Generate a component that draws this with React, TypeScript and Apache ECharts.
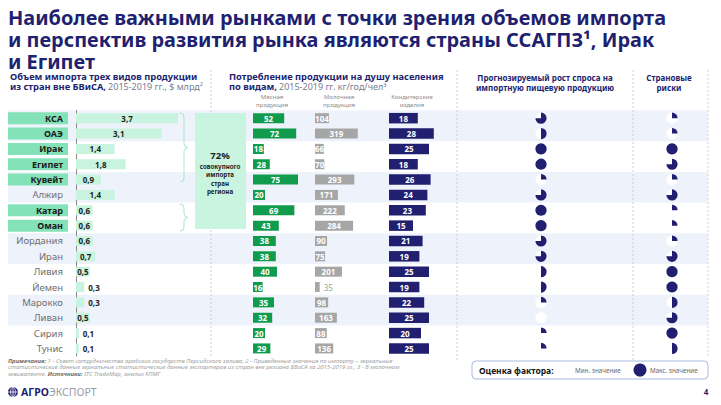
import React, { useEffect, useRef } from "react";
import * as echarts from "echarts";

// Countries of the region, top to bottom
const countries = ["КСА", "ОАЭ", "Ирак", "Египет", "Кувейт", "Алжир", "Катар", "Оман", "Иордания", "Иран", "Ливия", "Йемен", "Марокко", "Ливан", "Сирия", "Тунис"];
// Key markets (ССАГПЗ, Ирак, Египет) get a highlighted label
const keyMarkets = [true, true, true, true, true, false, true, true, false, false, false, false, false, false, false, false];
// Import of the three product groups from outside БВиСА, $ bn
const importBn = [3.7, 3.1, 1.4, 1.8, 0.9, 1.4, 0.6, 0.6, 0.6, 0.7, 0.5, 0.3, 0.3, 0.5, 0.1, 0.1];
// Per-capita consumption, kg/year/person
const meatKg = [52, 72, 18, 28, 75, 20, 69, 43, 38, 38, 40, 16, 35, 32, 20, 29];
const dairyKg = [104, 319, 66, 70, 293, 171, 222, 284, 90, 75, 201, 35, 98, 163, 88, 136];
const sweetsKg = [18, 28, 25, 18, 26, 24, 23, 15, 21, 19, 25, 19, 22, 25, 20, 25];
// Harvey-ball scores (share of the circle filled)
const demandGrowth = [0.75, 0.5, 1, 1, 0.25, 0.75, 1, 1, 0.75, 0.75, 0.5, 0.5, 0.25, 0, 0.25, 0.25];
const countryRisk = [0.25, 0.25, 1, 0.75, 0.25, 0.75, 0.25, 0.25, 0.25, 0.75, 1, 1, 0.5, 0.75, 1, 0.5];

const FONT = '"Noto Sans", "DejaVu Sans", sans-serif';
const NAVY = "#211f6f";
const MINT = "#c8f3de";
const MINT_STRONG = "#84e2b9";

const ROW_TOP = 110.5;
const ROW_H = 15.35;

const commaNum = (v: number) => String(v).replace(".", ",");

function bracePath(h: number) {
  const m = h / 2;
  return `M0 0 Q4 0 4 4 L4 ${m - 4} Q4 ${m} 8 ${m} Q4 ${m} 4 ${m + 4} L4 ${h - 4} Q4 ${h} 0 ${h}`;
}

function buildOption(): any {
  const n = countries.length;
  const grid = (left: number, width: number) => ({
    left,
    width,
    top: ROW_TOP,
    height: ROW_H * n,
    containLabel: false,
    outerBoundsMode: "none",
  });
  const hiddenCat = (gridIndex: number) => ({
    type: "category",
    gridIndex,
    data: countries,
    inverse: true,
    show: false,
  });
  const hiddenVal = (gridIndex: number, max: number) => ({
    type: "value",
    gridIndex,
    min: 0,
    max,
    show: false,
  });

  const grids = [
    grid(8, 700), // 0 row stripes
    grid(8, 60), // 1 country labels
    grid(76, 120), // 2 import
    grid(253, 60), // 3 meat
    grid(315, 70), // 4 dairy
    grid(389, 60), // 5 sweets
    grid(531, 20), // 6 demand growth
    grid(662, 20), // 7 country risk
  ];

  const yAxes: any[] = grids.map((_, i) => hiddenCat(i));
  yAxes[0] = {
    type: "category",
    gridIndex: 0,
    data: countries,
    inverse: true,
    axisLine: { show: false },
    axisTick: { show: false },
    axisLabel: { show: false },
    splitArea: { show: true, areaStyle: { color: ["#eef2fb", "rgba(255,255,255,0)"] } },
  };
  yAxes[2] = {
    type: "category",
    gridIndex: 2,
    data: countries,
    inverse: true,
    axisLine: { show: true, lineStyle: { color: "#8a8a8a", width: 1 } },
    axisTick: { show: false },
    axisLabel: { show: false },
  };

  const xAxes = [
    hiddenVal(0, 1),
    hiddenVal(1, 1),
    hiddenVal(2, 4.35),
    hiddenVal(3, 100),
    hiddenVal(4, 522),
    hiddenVal(5, 37.5),
    hiddenVal(6, 1),
    hiddenVal(7, 1),
  ];

  const valueLabel = {
    show: true,
    position: "inside",
    fontFamily: FONT,
    fontSize: 8,
    fontWeight: "bold",
    color: "#ffffff",
  };

  const harvey = (idx: number, scores: number[]) => ({
    type: "custom",
    xAxisIndex: idx,
    yAxisIndex: idx,
    data: scores.map((f, i) => [0.5, i, f]),
    encode: { x: 0, y: 1 },
    renderItem: (_params: any, api: any) => {
      const pt = api.coord([api.value(0), api.value(1)]);
      const f = api.value(2);
      const r = 5.6;
      const children: any[] = [
        { type: "circle", shape: { cx: pt[0], cy: pt[1], r }, style: { fill: "#ffffff" } },
      ];
      if (f >= 1) {
        children.push({ type: "circle", shape: { cx: pt[0], cy: pt[1], r }, style: { fill: NAVY } });
      } else if (f > 0) {
        children.push({
          type: "sector",
          shape: {
            cx: pt[0],
            cy: pt[1],
            r0: 0,
            r,
            startAngle: -Math.PI / 2,
            endAngle: -Math.PI / 2 + 2 * Math.PI * f,
            clockwise: true,
          },
          style: { fill: NAVY },
        });
      }
      return { type: "group", children };
    },
  });

  const series: any[] = [
    {
      type: "bar",
      xAxisIndex: 1,
      yAxisIndex: 1,
      barWidth: 12,
      silent: true,
      data: countries.map((c, i) => ({
        value: 1,
        itemStyle: { color: keyMarkets[i] ? MINT_STRONG : "rgba(0,0,0,0)" },
        label: keyMarkets[i]
          ? { color: "#1b1b1b", fontWeight: "bold", fontSize: 9 }
          : { color: "#6e6e6e", fontWeight: "normal", fontSize: 9.5 },
      })),
      label: {
        show: true,
        position: "insideRight",
        distance: 5,
        fontFamily: FONT,
        formatter: (p: any) => countries[p.dataIndex],
      },
    },
    {
      type: "bar",
      xAxisIndex: 2,
      yAxisIndex: 2,
      barWidth: 10,
      itemStyle: { color: MINT },
      data: importBn.map((v) => ({
        value: v,
        label: v < 0.5 ? { position: "right", distance: 4 } : {},
      })),
      label: {
        ...valueLabel,
        color: "#1e1e1e",
        formatter: (p: any) => commaNum(p.value),
      },
    },
    {
      type: "bar",
      xAxisIndex: 3,
      yAxisIndex: 3,
      barWidth: 10,
      itemStyle: { color: "#109c4c" },
      data: meatKg,
      label: valueLabel,
    },
    {
      type: "bar",
      xAxisIndex: 4,
      yAxisIndex: 4,
      barWidth: 10,
      itemStyle: { color: "#a6a6a6" },
      data: dairyKg.map((v) => ({
        value: v,
        label: v < 50 ? { position: "right", distance: 4, color: "#a0a0a0", fontWeight: "normal" } : {},
      })),
      label: valueLabel,
    },
    {
      type: "bar",
      xAxisIndex: 5,
      yAxisIndex: 5,
      barWidth: 10.5,
      itemStyle: { color: NAVY },
      data: sweetsKg,
      label: valueLabel,
    },
    harvey(6, demandGrowth),
    harvey(7, countryRisk),
  ];

  const dash = (x: number, y1: number, y2: number) => ({
    type: "line",
    shape: { x1: x, y1, x2: x, y2 },
    style: { stroke: "#cfcfcf", lineWidth: 1, lineDash: [2, 2] },
    z: 1,
  });
  const txt = (x: number, y: number, text: string, o: any = {}) => ({
    type: "text",
    x,
    y,
    z: 10,
    style: {
      text,
      fontFamily: FONT,
      fontSize: 8,
      fill: NAVY,
      textAlign: "left",
      textVerticalAlign: "middle",
      ...o,
    },
  });
  // one text element per line
  const lines = (x: number, y0: number, step: number, rows: string[], o: any = {}) =>
    rows.map((r, i) => txt(x, y0 + i * step, r, { lineHeight: step, ...o }));
  const subHeadStyle = { fontSize: 6.1, fill: "#8c8c8c", textAlign: "center" };
  const noteRich = {
    b: { fontFamily: FONT, fontSize: 6, fontStyle: "italic", fontWeight: "bold", fill: "#707070", lineHeight: 6 },
    r: { fontFamily: FONT, fontSize: 6, fontStyle: "italic", fill: "#a2a2a2", lineHeight: 6 },
  };
  const note = (y: number, text: string) =>
    txt(8, y, text, { fontSize: 6, fontStyle: "italic", fill: "#a2a2a2", lineHeight: 6, rich: noteRich });

  const graphic: any[] = [
    dash(211, 70, 357),
    dash(457, 70, 362),
    dash(633, 70, 362),
    dash(708, 70, 357),
    // title
    ...lines(
      8,
      17,
      22,
      [
        "Наиболее важными рынками с точки зрения объемов импорта",
        "и перспектив развития рынка являются страны ССАГПЗ¹, Ирак",
        "и Египет",
      ],
      { fontSize: 19.9, fontWeight: "bold", fill: NAVY }
    ),
    // left block header
    txt(10, 76.5, "Объем импорта трех видов продукции", { fontSize: 9.3, fontWeight: "bold" }),
    txt(10, 86.5, "{b|из стран вне БВиСА,} {r|2015-2019 гг., $ млрд²}", {
      rich: {
        b: { fontFamily: FONT, fontSize: 9.3, fontWeight: "bold", fill: NAVY },
        r: { fontFamily: FONT, fontSize: 9, fill: "#7b7b8f" },
      },
    }),
    // middle block header
    txt(229, 76.5, "Потребление продукции на душу населения", { fontSize: 9.3, fontWeight: "bold" }),
    txt(229, 86.5, "{b|по видам,} {r|2015-2019 гг. кг/год/чел³}", {
      rich: {
        b: { fontFamily: FONT, fontSize: 9.3, fontWeight: "bold", fill: NAVY },
        r: { fontFamily: FONT, fontSize: 9, fill: "#7b7b8f" },
      },
    }),
    ...lines(272, 96.8, 8, ["Мясная", "продукция"], subHeadStyle),
    ...lines(339, 96.8, 8, ["Молочная", "продукция"], subHeadStyle),
    ...lines(412, 96.8, 8, ["Кондитерские", "изделия"], subHeadStyle),
    // right block headers
    ...lines(545, 77.5, 9.8, ["Прогнозируемый рост спроса на", "импортную пищевую продукцию"], {
      fontSize: 8,
      fontWeight: "bold",
      textAlign: "center",
    }),
    ...lines(669, 77.5, 10, ["Страновые", "риски"], { fontSize: 8, fontWeight: "bold", textAlign: "center" }),
    // braces grouping the key markets
    { type: "braceTall", x: 180, y: 113, z: 5, style: { stroke: "#a9e7ca", fill: "none", lineWidth: 1 } },
    { type: "braceShort", x: 180, y: 204, z: 5, style: { stroke: "#a9e7ca", fill: "none", lineWidth: 1 } },
    // share of the regional import
    { type: "rect", shape: { x: 195, y: 113, width: 51, height: 116 }, style: { fill: "#c9f4e0" }, z: 4 },
    txt(220, 155.5, "72%", { fontSize: 9.5, fontWeight: "bold", fill: "#1d1d1d", textAlign: "center" }),
    ...lines(220, 166.5, 8.4, ["совокупного", "импорта", "стран", "региона"], {
      fontSize: 6.2,
      fontWeight: "bold",
      fill: "#1d1d1d",
      textAlign: "center",
    }),
    // legend
    {
      type: "rect",
      shape: { x: 472, y: 361, width: 236, height: 18, r: 4 },
      style: { fill: "#ffffff", stroke: "#a9bbdf", lineWidth: 1 },
      z: 8,
    },
    txt(479, 370, "Оценка фактора:", { fontSize: 8.5, fontWeight: "bold", fill: "#151515" }),
    txt(575, 370, "Мин. значение", { fontSize: 6.3, fill: "#6a6a6a" }),
    { type: "circle", shape: { cx: 640, cy: 370, r: 6.5 }, style: { fill: NAVY }, z: 10 },
    txt(650, 370, "Макс. значение", { fontSize: 6.3, fill: "#6a6a6a" }),
    // notes
    note(360.5, "{b|Примечания:}{r| 1 - Совет сотрудничества арабских государств Персидского залива, 2 - Приведенные значения по импорту – зеркальные}"),
    note(367, "статистические данные зеркальные статистические данные экспортеров из стран вне региона БВиСА за 2015-2019 гг., 3 - В молочном"),
    note(373.5, "{r|эквиваленте. }{b|Источники:}{r| ITC TradeMap, анализ КПМГ}"),
    // logo
    { type: "circle", shape: { cx: 13, cy: 392, r: 5 }, style: { fill: NAVY }, z: 10 },
    { type: "line", shape: { x1: 8, y1: 392, x2: 18, y2: 392 }, style: { stroke: "#ffffff", lineWidth: 0.8 }, z: 11 },
    { type: "line", shape: { x1: 13, y1: 387, x2: 13, y2: 397 }, style: { stroke: "#ffffff", lineWidth: 0.8 }, z: 11 },
    { type: "ellipse", shape: { cx: 13, cy: 392, rx: 2.4, ry: 5 }, style: { fill: "none", stroke: "#ffffff", lineWidth: 0.7 }, z: 11 },
    txt(21, 392, "{b|АГРО}{l|ЭКСПОРТ}", {
      rich: {
        b: { fontFamily: FONT, fontSize: 10.5, fontWeight: "bold", fill: NAVY },
        l: { fontFamily: FONT, fontSize: 10.5, fill: "#9a9aa8" },
      },
    }),
    txt(706, 391, "4", { fontSize: 8, fontWeight: "bold", textAlign: "center" }),
  ];

  return {
    animation: false,
    backgroundColor: "#ffffff",
    textStyle: { fontFamily: FONT },
    grid: grids,
    xAxis: xAxes,
    yAxis: yAxes,
    series,
    graphic,
  };
}

export default function App() {
  const ref = useRef<HTMLDivElement>(null);
  useEffect(() => {
    echarts.graphic.registerShape("braceTall", echarts.graphic.extendPath(bracePath(69), {}));
    echarts.graphic.registerShape("braceShort", echarts.graphic.extendPath(bracePath(27), {}));
    const chart = echarts.init(ref.current as HTMLDivElement, undefined, { renderer: "svg" });
    chart.setOption(buildOption());
    return () => chart.dispose();
  }, []);
  return (
    <div
      ref={ref}
      style={{ position: "fixed", left: 0, top: 0, width: 721, height: 405, background: "#ffffff" }}
    />
  );
}
